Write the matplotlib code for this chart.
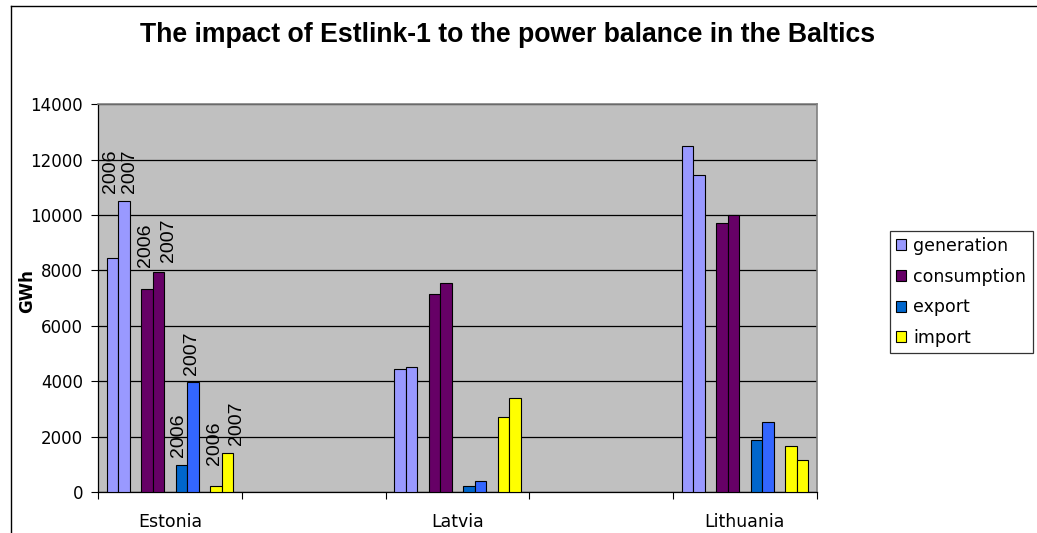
import numpy as np
import matplotlib.pyplot as plt
from matplotlib.patches import Patch
from matplotlib.lines import Line2D

plt.rcParams['font.family'] = ['DejaVu Sans']

# Data (GWh)
countries = ["Estonia", "Latvia", "Lithuania"]
measures = ["generation", "consumption", "export", "import"]
years = ["2006", "2007"]

generation_2006 = [8440, 4430, 12500]
generation_2007 = [10520, 4510, 11430]
consumption_2006 = [7330, 7150, 9720]
consumption_2007 = [7930, 7550, 9990]
export_2006 = [970, 210, 1880]
export_2007 = [3970, 400, 2530]
import_2006 = [220, 2710, 1650]
import_2007 = [1400, 3400, 1150]

values = [
    [generation_2006, generation_2007],
    [consumption_2006, consumption_2007],
    [export_2006, export_2007],
    [import_2006, import_2007],
]
colors = [
    ["#9999FF", "#9999FF"],
    ["#660066", "#660066"],
    ["#0066CC", "#3366FF"],
    ["#FFFF00", "#FFFF00"],
]

# year labels on the Estonia bars: (dx, dy) offsets in points from bar top
label_offsets = [
    [(-1.5, 47), (3.5, 5.5)],
    [(-1.5, 16), (7, 7.5)],
    [(-2, 6), (-1, 5)],
    [(-1, 15), (6.5, 6)],
]

W, H = 1037, 533
fig = plt.figure(figsize=(W / 100, H / 100), dpi=100)
ax = fig.add_axes([98.3 / W, 1 - 492 / H, (816.7 - 98.3) / W, (492 - 104.3) / H])
ax.set_facecolor("#C0C0C0")

# Excel-style layout: 5 category slots (two blank), 11 series slots, gap 150%
cat_x = np.array([0, 2, 4])
bar_w = 0.08
for m in range(4):
    for y in range(2):
        slot = 3 * m + y
        xs = cat_x - 0.4 + bar_w * slot
        ax.bar(xs, values[m][y], width=bar_w, color=colors[m][y],
               edgecolor="black", linewidth=0.8, zorder=3)
        dx, dy = label_offsets[m][y]
        ax.annotate(years[y], (xs[0], values[m][y][0]), xytext=(dx, dy),
                    textcoords="offset points", rotation=90, ha="center",
                    va="bottom", fontsize=14, family="Liberation Sans", zorder=4)

ax.set_xlim(-0.5, 4.5)
ax.set_ylim(0, 14000)
ax.set_yticks(np.arange(0, 14001, 2000))
ax.grid(axis="y", color="black", linewidth=0.9)
ax.set_axisbelow(True)

ax.set_xticks(np.arange(-0.5, 4.6, 1))
ax.set_xticklabels([])
ax.set_xticks(cat_x, minor=True)
ax.set_xticklabels(countries, minor=True, fontsize=12.5)
ax.tick_params(axis="x", which="major", direction="out", length=5, width=0.8)
ax.tick_params(axis="x", which="minor", length=0, pad=15)
ax.tick_params(axis="y", direction="out", length=5, width=0.8, labelsize=12, pad=6)

for side in ["top", "right"]:
    ax.spines[side].set_color("#808080")
    ax.spines[side].set_linewidth(1.2)
for side in ["left", "bottom"]:
    ax.spines[side].set_color("black")
    ax.spines[side].set_linewidth(0.9)

fig.text(27 / W, 1 - 291 / H, "GWh", rotation=90, ha="center", va="center",
         fontsize=12, fontweight="bold")
fig.text(508 / W, 1 - 41.7 / H,
         "The impact of Estlink-1 to the power balance in the Baltics",
         ha="center", va="baseline", fontsize=19.2, fontweight="bold",
         family="Liberation Sans")

handles = [Patch(facecolor=colors[m][0], edgecolor="black", linewidth=0.8)
           for m in range(4)]
leg = fig.legend(handles, measures, loc="upper left",
                 bbox_to_anchor=(890 / W, 1 - 231 / H), fontsize=12.5,
                 frameon=True, fancybox=False, edgecolor="black",
                 handlelength=0.6, handleheight=0.6, handletextpad=0.4,
                 labelspacing=0.73, borderpad=0.35, borderaxespad=0)
leg.get_frame().set_linewidth(0.9)

# outer chart border (left and top edges visible)
fig.add_artist(Line2D([11 / W, 11 / W], [0, 1 - 5.5 / H], color="black", linewidth=1))
fig.add_artist(Line2D([11 / W, 1], [1 - 5.5 / H, 1 - 5.5 / H], color="black", linewidth=1))

fig.savefig("out.png", dpi=100)
